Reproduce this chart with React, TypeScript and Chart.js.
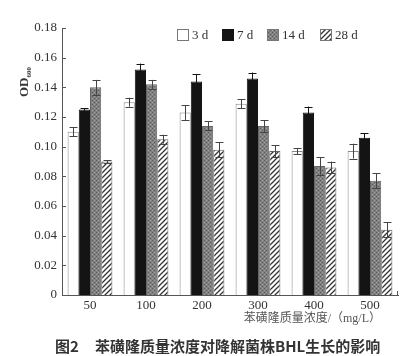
import React, { useEffect, useRef } from "react";
import { Chart, registerables } from "chart.js";

Chart.register(...registerables);

const categories = ["50", "100", "200", "300", "400", "500"];
const seriesLabels = ["3 d", "7 d", "14 d", "28 d"];
const d3 = [0.110, 0.130, 0.123, 0.129, 0.097, 0.097];
const d7 = [0.125, 0.152, 0.144, 0.146, 0.123, 0.106];
const d14 = [0.140, 0.142, 0.114, 0.114, 0.087, 0.077];
const d28 = [0.090, 0.105, 0.098, 0.097, 0.086, 0.044];
const e3 = [0.003, 0.003, 0.005, 0.003, 0.002, 0.005];
const e7 = [0.001, 0.004, 0.005, 0.004, 0.004, 0.003];
const e14 = [0.005, 0.003, 0.003, 0.004, 0.006, 0.005];
const e28 = [0.001, 0.003, 0.005, 0.004, 0.004, 0.005];
const yTicks = [0, 0.02, 0.04, 0.06, 0.08, 0.1, 0.12, 0.14, 0.16, 0.18];
const xTitle = "苯磺隆质量浓度/（mg/L）";
const caption1 = "图2";
const caption2 = "苯磺隆质量浓度对降解菌株BHL生长的影响";

const SERIF = "'Liberation Serif', 'DejaVu Serif', serif";

function makeGrayPattern(): CanvasPattern | string {
  const c = document.createElement("canvas");
  c.width = 4;
  c.height = 4;
  const g = c.getContext("2d");
  if (!g) return "#7a7a7a";
  g.fillStyle = "#808080";
  g.fillRect(0, 0, 4, 4);
  g.fillStyle = "#5a5a5a";
  g.fillRect(0, 0, 1, 1);
  g.fillRect(2, 2, 1, 1);
  g.fillStyle = "#a0a0a0";
  g.fillRect(2, 0, 1, 1);
  g.fillRect(0, 2, 1, 1);
  const p = g.createPattern(c, "repeat");
  return p || "#7a7a7a";
}

function makeHatchPattern(): CanvasPattern | string {
  const c = document.createElement("canvas");
  c.width = 5;
  c.height = 5;
  const g = c.getContext("2d");
  if (!g) return "#ccc";
  g.fillStyle = "#ffffff";
  g.fillRect(0, 0, 5, 5);
  g.strokeStyle = "#333";
  g.lineWidth = 1.3;
  g.beginPath();
  g.moveTo(-1, 6);
  g.lineTo(6, -1);
  g.moveTo(-1, 1);
  g.lineTo(1, -1);
  g.moveTo(4, 6);
  g.lineTo(6, 4);
  g.stroke();
  const p = g.createPattern(c, "repeat");
  return p || "#ccc";
}

export default function App() {
  const ref = useRef<HTMLCanvasElement>(null);

  useEffect(() => {
    if (!ref.current) return;
    const gray = makeGrayPattern();
    const hatch = makeHatchPattern();
    const errs = [e3, e7, e14, e28];
    const fills: any[] = ["#ffffff", "#141414", gray, hatch];
    const borders = ["#888", "#141414", "#666", "#666"];

    const errorBars = {
      id: "errorBars",
      afterDatasetsDraw(chart: any) {
        const ctx = chart.ctx;
        const ys = chart.scales.y;
        ctx.save();
        ctx.lineWidth = 1;
        chart.data.datasets.forEach((ds: any, di: number) => {
          const meta = chart.getDatasetMeta(di);
          meta.data.forEach((bar: any, i: number) => {
            const v = ds.data[i];
            const e = errs[di][i];
            const top = ys.getPixelForValue(v + e);
            const bot = ys.getPixelForValue(v - e);
            const x = Math.round(bar.x) + 0.5;
            const hw = 4;
            ctx.strokeStyle = di === 1 ? "#141414" : "#444";
            ctx.beginPath();
            ctx.moveTo(x, top);
            ctx.lineTo(x, bot);
            ctx.moveTo(x - hw, Math.round(top) + 0.5);
            ctx.lineTo(x + hw, Math.round(top) + 0.5);
            ctx.moveTo(x - hw, Math.round(bot) + 0.5);
            ctx.lineTo(x + hw, Math.round(bot) + 0.5);
            ctx.stroke();
          });
        });
        ctx.restore();
      },
    };

    const decor = {
      id: "decor",
      afterDraw(chart: any) {
        const ctx = chart.ctx;
        const ys = chart.scales.y;
        const area = chart.chartArea;
        ctx.save();
        // inner y ticks
        ctx.strokeStyle = "#555";
        ctx.lineWidth = 1;
        yTicks.forEach((t) => {
          const y = Math.round(ys.getPixelForValue(t)) + 0.5;
          ctx.beginPath();
          ctx.moveTo(area.left, y);
          ctx.lineTo(area.left + 4, y);
          ctx.stroke();
        });
        // right end tick of x axis
        ctx.beginPath();
        ctx.moveTo(area.right - 0.5, area.bottom);
        ctx.lineTo(area.right - 0.5, area.bottom - 4);
        ctx.stroke();

        // legend
        const lx = [177, 222, 267, 320];
        const ly = 29;
        ctx.font = "13px " + SERIF;
        ctx.textBaseline = "middle";
        ctx.textAlign = "left";
        seriesLabels.forEach((lab, i) => {
          ctx.fillStyle = fills[i];
          ctx.fillRect(lx[i], ly, 12, 12);
          ctx.strokeStyle = i === 1 ? "#141414" : "#777";
          ctx.strokeRect(lx[i] + 0.5, ly + 0.5, 11, 11);
          ctx.fillStyle = "#333";
          ctx.fillText(lab, lx[i] + 15, ly + 6.5);
        });

        // y title OD600 rotated
        ctx.save();
        ctx.translate(24, 83);
        ctx.rotate(-Math.PI / 2);
        ctx.fillStyle = "#333";
        ctx.textBaseline = "alphabetic";
        ctx.font = "bold 13px " + SERIF;
        ctx.textAlign = "left";
        const odW = ctx.measureText("OD").width;
        ctx.fillText("OD", -14, 4);
        ctx.font = "bold 7px " + SERIF;
        ctx.fillText("600", -14 + odW, 7);
        ctx.restore();

        // x title
        ctx.font = "12px " + SERIF + ", 'Noto Sans CJK SC'";
        ctx.fillStyle = "#555";
        ctx.textAlign = "right";
        ctx.textBaseline = "middle";
        ctx.fillText(xTitle, 381, 319);

        // caption
        ctx.font = "bold 15px 'Noto Sans CJK SC', sans-serif";
        ctx.fillStyle = "#333";
        ctx.textAlign = "left";
        ctx.fillText(caption1, 55, 346);
        ctx.fillText(caption2, 95, 346);
        ctx.restore();
      },
    };

    const chart = new Chart(ref.current, {
      type: "bar",
      data: {
        labels: categories,
        datasets: [d3, d7, d14, d28].map((d, i) => ({
          label: seriesLabels[i],
          data: d,
          backgroundColor: fills[i],
          borderColor: borders[i],
          borderWidth: 1,
          categoryPercentage: 0.8,
          barPercentage: 1.0,
        })),
      },
      options: {
        responsive: false,
        animation: false,
        devicePixelRatio: 1,
        layout: { padding: { top: 28, right: 12, left: 0, bottom: 0 } },
        plugins: {
          legend: { display: false },
          tooltip: { enabled: false },
        },
        scales: {
          x: {
            grid: { display: false, drawTicks: false },
            border: { display: true, color: "#555" },
            ticks: {
              padding: 3,
              color: "#333",
              font: { family: SERIF, size: 13 },
            },
            afterFit(scale: any) {
              scale.height = 61;
            },
          },
          y: {
            min: 0,
            max: 0.18,
            grid: { display: false, drawTicks: false },
            border: { display: true, color: "#555" },
            ticks: {
              stepSize: 0.02,
              padding: 5,
              color: "#333",
              font: { family: SERIF, size: 13 },
              callback: (v: any) => (Number(v) === 0 ? "0" : Number(v).toFixed(2)),
            },
            afterFit(scale: any) {
              scale.width = 62;
            },
          },
        },
      },
      plugins: [errorBars, decor],
    });
    return () => chart.destroy();
  }, []);

  return (
    <div style={{ position: "absolute", left: 0, top: 0, width: 410, height: 356, background: "#fff" }}>
      <canvas ref={ref} width={410} height={356} style={{ display: "block" }} />
    </div>
  );
}
